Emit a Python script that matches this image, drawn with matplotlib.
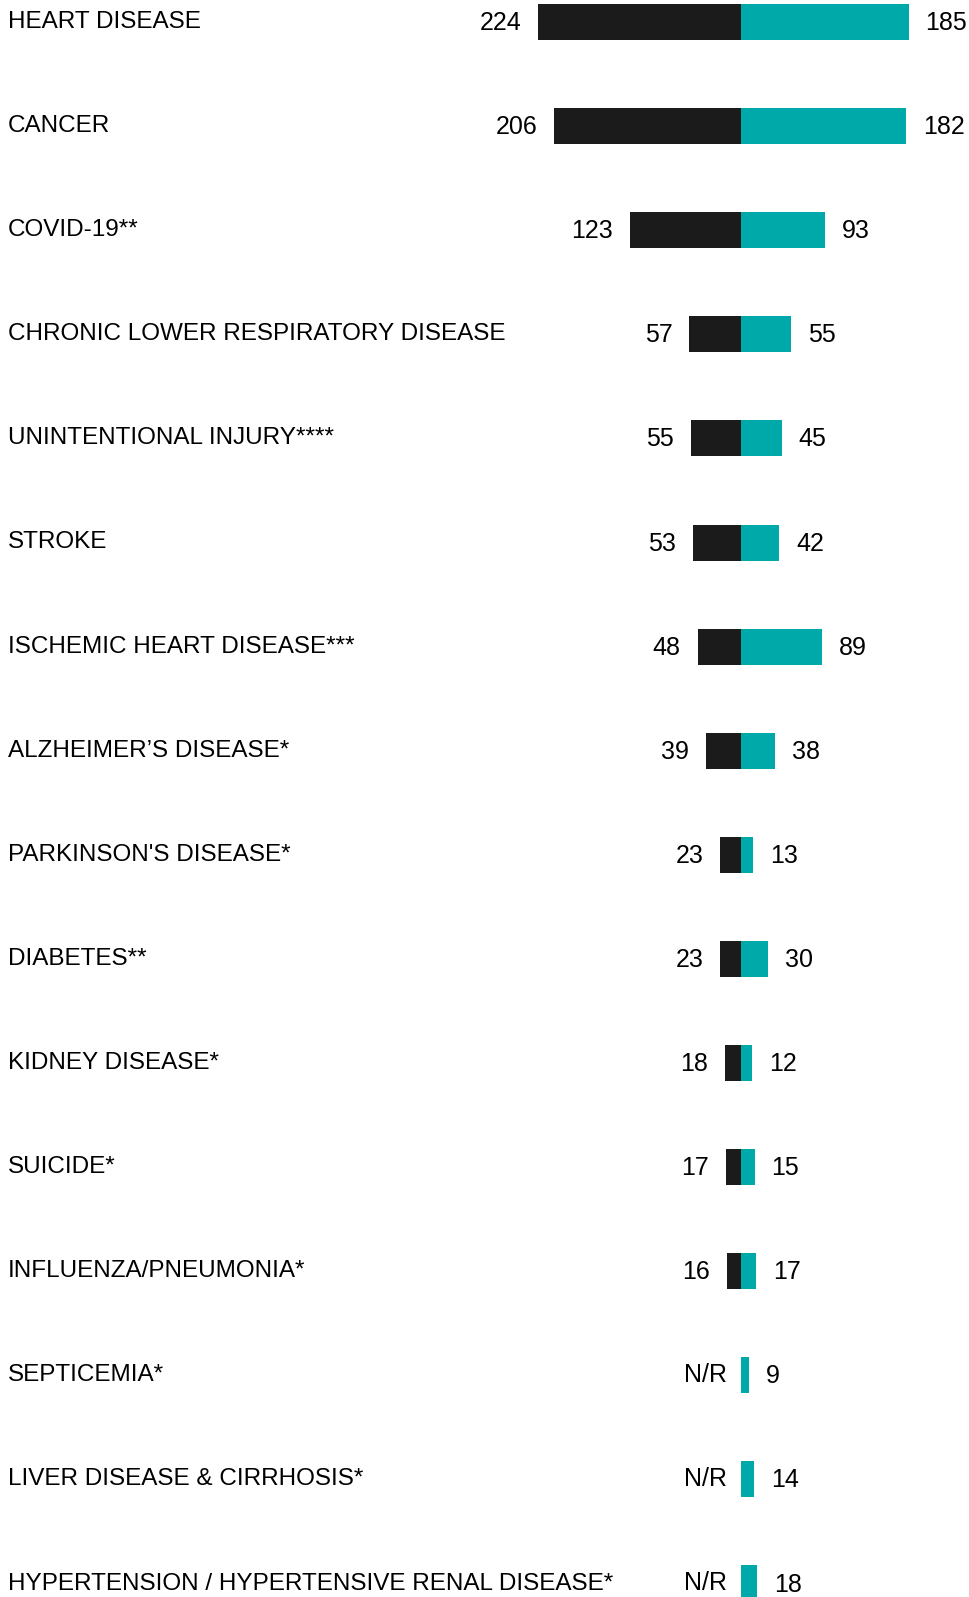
import matplotlib
matplotlib.use('Agg')
import matplotlib.pyplot as plt

# leading causes of death, rate per 100k: county (left, dark) vs state (right, teal)
causes = [
    'HEART DISEASE',
    'CANCER',
    'COVID-19**',
    'CHRONIC LOWER RESPIRATORY DISEASE',
    'UNINTENTIONAL INJURY****',
    'STROKE',
    'ISCHEMIC HEART DISEASE***',
    'ALZHEIMER\u2019S DISEASE*',
    "PARKINSON'S DISEASE*",
    'DIABETES**',
    'KIDNEY DISEASE*',
    'SUICIDE*',
    'INFLUENZA/PNEUMONIA*',
    'SEPTICEMIA*',
    'LIVER DISEASE & CIRRHOSIS*',
    'HYPERTENSION / HYPERTENSIVE RENAL DISEASE*',
]
left_vals = [224, 206, 123, 57, 55, 53, 48, 39, 23, 23, 18, 17, 16, None, None, None]
right_vals = [185, 182, 93, 55, 45, 42, 89, 38, 13, 30, 12, 15, 17, 9, 14, 18]

DARK = '#1b1b1b'
TEAL = '#00a9a9'

plt.rcParams['font.family'] = ['Liberation Sans', 'DejaVu Sans']

fig = plt.figure(figsize=(9.69, 15.97), dpi=100)
ax = fig.add_axes([0, 0, 1, 1])

px_per_unit = 0.906
center_px = 741
row_px = 104.1
first_row_px = 22

ax.set_xlim(-center_px / px_per_unit, (969 - center_px) / px_per_unit)
ax.set_ylim((1597 - first_row_px) / row_px, -first_row_px / row_px)
ax.axis('off')

bar_h = 36 / row_px
gap = 17 / px_per_unit
x_text = (8 - center_px) / px_per_unit

for i, (name, lv, rv) in enumerate(zip(causes, left_vals, right_vals)):
    ax.text(x_text, i, name, ha='left', va='center', fontsize=17.5, color='black')
    if lv is not None:
        ax.barh(i, -lv, height=bar_h, color=DARK, left=0)
        ax.text(-lv - gap, i + 0.01, str(lv), ha='right', va='center', fontsize=18)
    else:
        ax.text(-14 / px_per_unit, i, 'N/R', ha='right', va='center', fontsize=18)
    ax.barh(i, rv, height=bar_h, color=TEAL, left=0)
    ax.text(rv + gap, i + 0.01, str(rv), ha='left', va='center', fontsize=18)

fig.savefig('out.png', dpi=100)
